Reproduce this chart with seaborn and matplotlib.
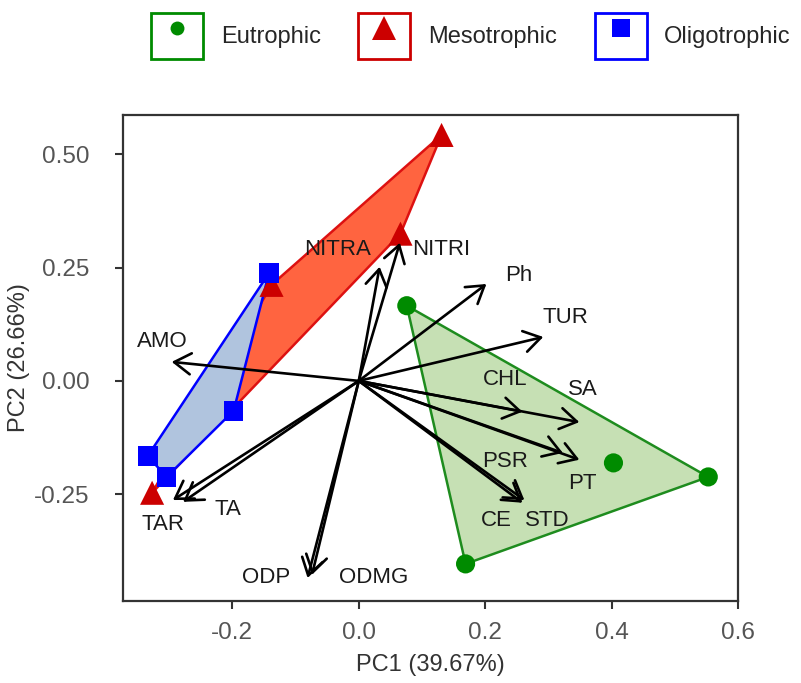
import numpy as np
import pandas as pd
import seaborn as sns
import matplotlib.pyplot as plt
from matplotlib.patches import Rectangle
from matplotlib.lines import Line2D

# Sample scores on the first two PCs, by trophic state
eut_pc1 = [0.076, 0.403, 0.553, 0.169]
eut_pc2 = [0.166, -0.181, -0.212, -0.404]
mes_pc1 = [0.131, 0.066, -0.138, -0.327]
mes_pc2 = [0.543, 0.325, 0.212, -0.247]
oli_pc1 = [-0.142, -0.198, -0.334, -0.304]
oli_pc2 = [0.238, -0.066, -0.166, -0.212]

# Variable loadings (arrow tips) and label positions
var_names = ['AMO', 'NITRA', 'NITRI', 'Ph', 'TUR', 'CHL', 'SA', 'PSR', 'PT',
             'CE', 'STD', 'TA', 'TAR', 'ODP', 'ODMG']
load_pc1 = [-0.296, 0.033, 0.065, 0.202, 0.292, 0.259, 0.349, 0.323, 0.349,
            0.259, 0.262, -0.278, -0.294, -0.081, -0.074]
load_pc2 = [0.042, 0.252, 0.305, 0.214, 0.097, -0.068, -0.091, -0.159, -0.174,
            -0.269, -0.263, -0.267, -0.263, -0.435, -0.428]
lab_pc1 = [-0.311, -0.033, 0.130, 0.253, 0.327, 0.231, 0.354, 0.231, 0.354,
           0.217, 0.299, -0.207, -0.310, -0.147, 0.024]
lab_pc2 = [0.088, 0.291, 0.291, 0.232, 0.139, 0.004, -0.018, -0.179, -0.227,
           -0.309, -0.309, -0.285, -0.316, -0.433, -0.433]

groups = ['Eutrophic', 'Mesotrophic', 'Oligotrophic']

df = pd.concat([
    pd.DataFrame({'PC1': eut_pc1, 'PC2': eut_pc2, 'group': 'Eutrophic'}),
    pd.DataFrame({'PC1': mes_pc1, 'PC2': mes_pc2, 'group': 'Mesotrophic'}),
    pd.DataFrame({'PC1': oli_pc1, 'PC2': oli_pc2, 'group': 'Oligotrophic'}),
], ignore_index=True)

point_col = {'Eutrophic': '#008B00', 'Mesotrophic': '#CC0000', 'Oligotrophic': '#0000FF'}
edge_col = {'Eutrophic': '#1E8C1E', 'Mesotrophic': '#DD1111', 'Oligotrophic': '#0000FF'}
fill_col = {'Eutrophic': '#C6E0B4', 'Mesotrophic': '#FF6440', 'Oligotrophic': '#B0C4DE'}
markers = {'Eutrophic': 'o', 'Mesotrophic': '^', 'Oligotrophic': 's'}
msize = {'Eutrophic': 190, 'Mesotrophic': 300, 'Oligotrophic': 200}
legend_msize = {'Eutrophic': 10, 'Mesotrophic': 17, 'Oligotrophic': 13}


def hull(pts):
    # monotone chain convex hull
    pts = sorted(map(tuple, pts))
    def cross(o, a, b):
        return (a[0] - o[0]) * (b[1] - o[1]) - (a[1] - o[1]) * (b[0] - o[0])
    lower, upper = [], []
    for p in pts:
        while len(lower) >= 2 and cross(lower[-2], lower[-1], p) <= 0:
            lower.pop()
        lower.append(p)
    for p in reversed(pts):
        while len(upper) >= 2 and cross(upper[-2], upper[-1], p) <= 0:
            upper.pop()
        upper.append(p)
    return np.array(lower[:-1] + upper[:-1])


sns.set_style('white')
plt.rcParams['font.family'] = ['Liberation Sans', 'DejaVu Sans']

fig = plt.figure(figsize=(8.01, 6.83), dpi=100)
ax = fig.add_axes([0.1536, 0.120, 0.7677, 0.7116])

# hulls
for g in ['Mesotrophic', 'Oligotrophic', 'Eutrophic']:
    sub = df[df['group'] == g]
    h = hull(sub[['PC1', 'PC2']].values)
    ax.fill(h[:, 0], h[:, 1], facecolor=fill_col[g], edgecolor=edge_col[g],
            lw=1.8, zorder=1)

# points
for g in ['Mesotrophic', 'Oligotrophic', 'Eutrophic']:
    sub = df[df['group'] == g]
    sns.scatterplot(data=sub, x='PC1', y='PC2', marker=markers[g], s=msize[g],
                    color=point_col[g], edgecolor='none', linewidth=0,
                    ax=ax, zorder=3, legend=False)

# loading arrows
for name, x, y, lx, ly in zip(var_names, load_pc1, load_pc2, lab_pc1, lab_pc2):
    ax.annotate('', xy=(x, y), xytext=(0, 0),
                arrowprops=dict(arrowstyle='->,head_length=0.6,head_width=0.38',
                                lw=1.9, color='black', shrinkA=0, shrinkB=0,
                                mutation_scale=20),
                zorder=4)
    ax.text(lx, ly, name, ha='center', va='center', fontsize=16,
            color='#1A1A1A', zorder=5)

ax.set_xlim(-0.373, 0.599)
ax.set_ylim(-0.486, 0.587)
ax.set_xticks([-0.2, 0.0, 0.2, 0.4, 0.6])
ax.set_xticklabels(['-0.2', '0.0', '0.2', '0.4', '0.6'])
ax.set_yticks([-0.25, 0.0, 0.25, 0.5])
ax.set_yticklabels(['-0.25', '0.00', '0.25', '0.50'])
ax.tick_params(axis='both', which='both', direction='out', length=6, width=1.5,
               color='#333333', labelsize=17.5, labelcolor='#555555',
               bottom=True, left=True)
ax.tick_params(axis='y', pad=18)
ax.tick_params(axis='x', pad=9)
for sp in ax.spines.values():
    sp.set_color('#333333')
    sp.set_linewidth(1.6)

ax.set_xlabel('PC1 (39.67%)', fontsize=17, color='#333333', labelpad=7)
ax.set_ylabel('PC2 (26.66%)', fontsize=17, color='#333333', labelpad=3)

# legend: coloured key boxes with the marker inside
handles = []
for g in groups:
    box = Rectangle((0, 0), 1, 1, facecolor='white', edgecolor=point_col[g], lw=2)
    mk = Line2D([], [], ls='none', marker=markers[g], color=point_col[g],
                markersize=legend_msize[g], markeredgewidth=0)
    handles.append((box, mk))
fig.legend(handles, groups, loc='center', bbox_to_anchor=(0.588, 0.947), ncol=3,
           frameon=False, fontsize=17, handlelength=2.2, handleheight=2.65,
           handletextpad=0.75, columnspacing=1.6, borderaxespad=0)

fig.savefig('out.png', dpi=100)
